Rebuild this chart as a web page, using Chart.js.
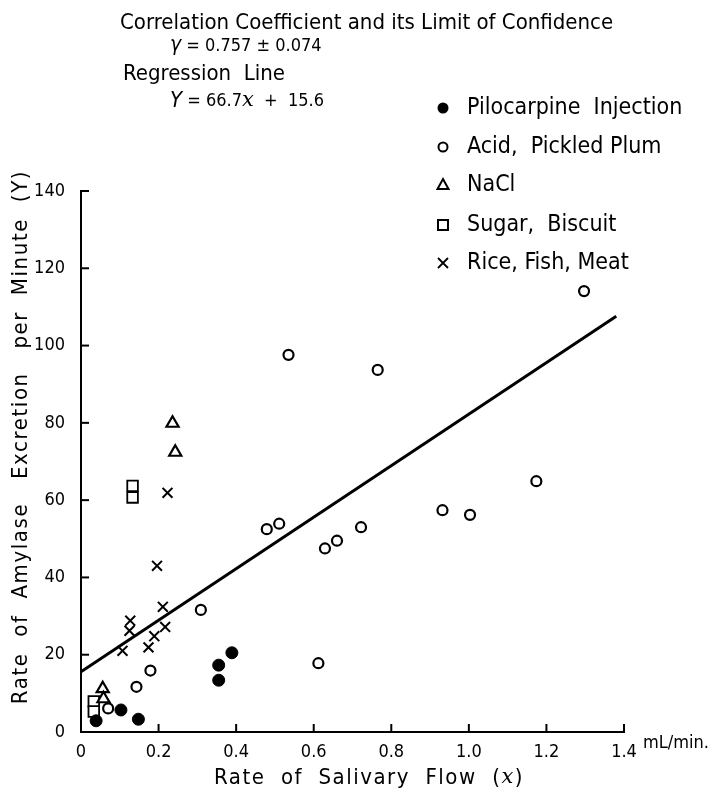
<!DOCTYPE html>
<html>
<head>
<meta charset="utf-8">
<script src="https://cdn.jsdelivr.net/npm/chart.js@4.4.1/dist/chart.umd.min.js"></script>
<style>
  html, body { margin: 0; padding: 0; background: #fff; }
  #chart { display: block; }
</style>
</head>
<body>
<canvas id="chart" width="716" height="796"></canvas>
<script>
  const FONT = '"Liberation Sans Narrow", "DejaVu Sans Condensed", sans-serif';

  // Pilocarpine Injection (filled circles)
  const piloX = [0.039, 0.103, 0.148, 0.355, 0.355, 0.389];
  const piloY = [2.9, 5.7, 3.3, 13.4, 17.3, 20.5];

  // Acid, Pickled Plum (open circles)
  const acidX = [0.070, 0.143, 0.179, 0.309, 0.479, 0.511, 0.535, 0.612, 0.629, 0.660, 0.722, 0.765, 0.932, 1.003, 1.174, 1.297];
  const acidY = [6.1, 11.7, 15.9, 31.6, 52.5, 53.9, 97.6, 17.8, 47.5, 49.5, 53.0, 93.7, 57.4, 56.2, 64.9, 114.1];

  // NaCl (triangles)
  const naclX = [0.056, 0.058, 0.236, 0.243];
  const naclY = [11.2, 8.6, 79.9, 72.4];

  // Sugar, Biscuit (squares)
  const sugarX = [0.033, 0.033, 0.133, 0.133];
  const sugarY = [7.9, 5.3, 63.7, 60.7];

  // Rice, Fish, Meat (crosses)
  const riceX = [0.107, 0.125, 0.127, 0.174, 0.189, 0.196, 0.211, 0.217, 0.223];
  const riceY = [21.0, 26.2, 28.8, 21.9, 24.8, 43.0, 32.4, 27.2, 61.9];

  // Regression line Y = 66.7x + 15.6, end points
  const lineX = [0, 1.38];
  const lineY = [15.6, 107.6];

  const legendLabels = ['Pilocarpine  Injection', 'Acid,  Pickled Plum', 'NaCl', 'Sugar,  Biscuit', 'Rice, Fish, Meat'];

  function toPoints(xs, ys) {
    return xs.map((x, i) => ({ x: x, y: ys[i] }));
  }

  // Tick marks pointing into the plot
  const inwardTicks = {
    id: 'inwardTicks',
    afterDraw(chart) {
      const { ctx, scales: { x, y } } = chart;
      ctx.save();
      ctx.strokeStyle = '#000';
      ctx.lineWidth = 2;
      x.ticks.forEach(t => {
        if (t.value === 0) return;
        const px = x.getPixelForValue(t.value);
        ctx.beginPath();
        ctx.moveTo(px, x.top);
        ctx.lineTo(px, x.top - 8);
        ctx.stroke();
      });
      y.ticks.forEach(t => {
        if (t.value === 0) return;
        const py = y.getPixelForValue(t.value);
        ctx.beginPath();
        ctx.moveTo(y.right, py);
        ctx.lineTo(y.right + 8, py);
        ctx.stroke();
      });
      ctx.restore();
    }
  };

  // Draw a run of text pieces with their own fonts, left aligned
  function drawRun(ctx, x, y, parts) {
    parts.forEach(p => {
      ctx.font = p[1];
      ctx.fillText(p[0], x, y);
      x += ctx.measureText(p[0]).width;
    });
  }

  function drawMarker(ctx, kind, x, y) {
    ctx.save();
    ctx.strokeStyle = '#000';
    ctx.fillStyle = '#000';
    ctx.lineWidth = 2;
    ctx.beginPath();
    if (kind === 0) {
      ctx.arc(x, y, 5.5, 0, Math.PI * 2);
      ctx.fill();
    } else if (kind === 1) {
      ctx.arc(x, y, 4.5, 0, Math.PI * 2);
      ctx.stroke();
    } else if (kind === 2) {
      ctx.moveTo(x, y - 6);
      ctx.lineTo(x + 5.5, y + 4);
      ctx.lineTo(x - 5.5, y + 4);
      ctx.closePath();
      ctx.stroke();
    } else if (kind === 3) {
      ctx.rect(x - 5, y - 5, 10, 10);
      ctx.stroke();
    } else {
      ctx.lineWidth = 1.8;
      ctx.moveTo(x - 5, y - 5); ctx.lineTo(x + 5, y + 5);
      ctx.moveTo(x + 5, y - 5); ctx.lineTo(x - 5, y + 5);
      ctx.stroke();
    }
    ctx.restore();
  }

  // Header texts, legend and axis titles
  const annotations = {
    id: 'annotations',
    afterDraw(chart) {
      const ctx = chart.ctx;
      ctx.save();
      ctx.fillStyle = '#000';
      ctx.textBaseline = 'middle';
      ctx.textAlign = 'left';

      ctx.font = '22px ' + FONT;
      ctx.fillText('Correlation Coefficient and its Limit of Confidence', 120, 23);
      drawRun(ctx, 170, 46, [
        ['γ', 'italic 21px ' + FONT],
        [' = 0.757 ± 0.074', '18px ' + FONT]
      ]);
      ctx.font = '22px ' + FONT;
      ctx.fillText('Regression  Line', 123, 74);
      drawRun(ctx, 170, 101, [
        ['Y', 'italic 22px ' + FONT],
        [' = 66.7', '18px ' + FONT],
        ['x', 'italic 21px "DejaVu Serif", serif'],
        ['  +  15.6', '18px ' + FONT]
      ]);

      // legend
      const rows = [108, 147, 185, 225, 263];
      legendLabels.forEach((label, i) => {
        drawMarker(ctx, i, 443, rows[i]);
        ctx.font = '23px ' + FONT;
        ctx.fillText(label, 467, rows[i]);
      });

      // unit after last x tick
      ctx.font = '18px ' + FONT;
      ctx.fillText('mL/min.', 643, 743);

      // x axis title
      ctx.letterSpacing = '1.5px';
      drawRun(ctx, 214, 778, [
        ['Rate  of  Salivary  Flow  (', '22px ' + FONT],
        ['x', 'italic 21px "DejaVu Serif", serif'],
        [')', '22px ' + FONT]
      ]);

      // y axis title
      ctx.letterSpacing = '1.6px';
      ctx.translate(21, 437);
      ctx.rotate(-Math.PI / 2);
      ctx.textAlign = 'center';
      ctx.font = '22px ' + FONT;
      ctx.fillText('Rate  of  Amylase   Excretion   per  Minute  (Y)', 0, 0);
      ctx.restore();
    }
  };

  function makeChart() {
    const ctx = document.getElementById('chart').getContext('2d');
    return new Chart(ctx, {
      type: 'scatter',
      data: {
        datasets: [
          {
            label: legendLabels[0],
            data: toPoints(piloX, piloY),
            pointStyle: 'circle',
            pointRadius: 6,
            backgroundColor: '#000',
            borderColor: '#000',
            borderWidth: 1,
            clip: false
          },
          {
            label: legendLabels[1],
            data: toPoints(acidX, acidY),
            pointStyle: 'circle',
            pointRadius: 5,
            backgroundColor: '#fff',
            borderColor: '#000',
            borderWidth: 2.2,
            clip: false
          },
          {
            label: legendLabels[2],
            data: toPoints(naclX, naclY),
            pointStyle: 'triangle',
            pointRadius: 7,
            backgroundColor: '#fff',
            borderColor: '#000',
            borderWidth: 2.2,
            clip: false
          },
          {
            label: legendLabels[3],
            data: toPoints(sugarX, sugarY),
            pointStyle: 'rect',
            pointRadius: 7.5,
            backgroundColor: '#fff',
            borderColor: '#000',
            borderWidth: 1.8,
            clip: false
          },
          {
            label: legendLabels[4],
            data: toPoints(riceX, riceY),
            pointStyle: 'crossRot',
            pointRadius: 7,
            borderColor: '#000',
            borderWidth: 2,
            clip: false
          },
          {
            type: 'line',
            label: 'Regression Line',
            data: toPoints(lineX, lineY),
            showLine: true,
            borderColor: '#000',
            borderWidth: 3,
            pointRadius: 0,
            fill: false,
            order: 10
          }
        ]
      },
      options: {
        responsive: false,
        animation: false,
        devicePixelRatio: 1,
        layout: { padding: { top: 191, right: 92, left: 0, bottom: 0 } },
        plugins: {
          legend: { display: false },
          tooltip: { enabled: false }
        },
        scales: {
          x: {
            type: 'linear',
            min: 0,
            max: 1.4,
            grid: { display: false },
            border: { display: true, color: '#000', width: 2 },
            ticks: {
              stepSize: 0.2,
              color: '#000',
              padding: 2,
              maxRotation: 0,
              font: { family: FONT, size: 18 },
              callback: v => (v === 0 ? '0' : v.toFixed(1))
            },
            afterFit: s => { s.height = 64; }
          },
          y: {
            type: 'linear',
            min: 0,
            max: 140,
            grid: { display: false },
            border: { display: true, color: '#000', width: 2 },
            ticks: {
              stepSize: 20,
              color: '#000',
              padding: 8,
              font: { family: FONT, size: 18 }
            },
            afterFit: s => { s.width = 81; }
          }
        }
      },
      plugins: [inwardTicks, annotations]
    });
  }

  document.addEventListener('DOMContentLoaded', function() {
    makeChart();
  });
</script>
</body>
</html>
